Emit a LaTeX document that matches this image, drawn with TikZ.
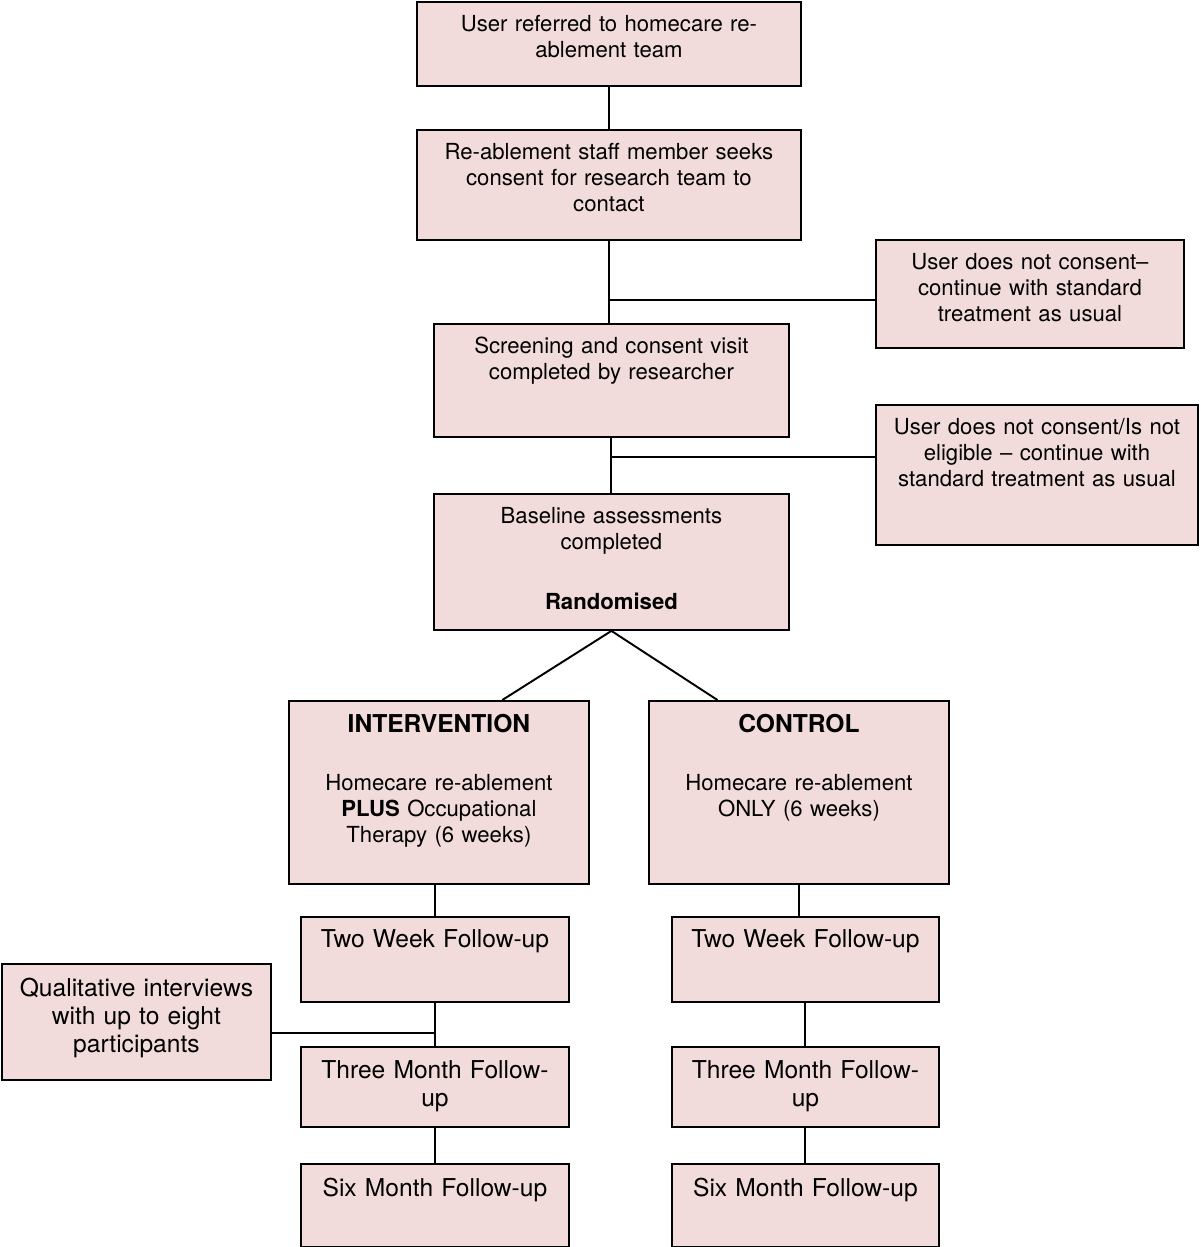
\documentclass[tikz,border=0pt]{standalone}
\usepackage{fontspec}
\setmainfont{TeX Gyre Heros}
\usetikzlibrary{calc}

\definecolor{boxpink}{RGB}{242,220,219}

\tikzset{
    box/.style={draw, line width=1.1pt, fill=boxpink, align=center, inner sep=0pt,
        anchor=north west, text height=0.6cm, font=\fontsize{12.6}{14.8}\selectfont},
    fbox/.style={box, text height=0.64cm, font=\fontsize{14}{15.9}\selectfont},
    link/.style={line width=1.1pt},
}
\newcommand{\armtitle}[1]{{\fontsize{14}{15.9}\selectfont\bfseries #1}}

\begin{document}
\begin{tikzpicture}[x=0.02cm, y=-0.02cm]
    \useasboundingbox (0,0) rectangle (1200,1247);

    \node[box, text width=7.68cm, text depth=1.08cm] (refer) at (416,1) {User referred to homecare re-\\ablement team};
    \node[box, text width=7.68cm, text depth=1.6cm] (seek) at (416,129) {Re-ablement staff member seeks\\consent for research team to\\contact};
    \node[box, text width=6.16cm, text depth=1.56cm] (nocons1) at (875,239) {User does not consent--\\continue with standard\\treatment as usual};
    \node[box, text width=7.1cm, text depth=1.66cm] (screen) at (433,323) {Screening and consent visit\\completed by researcher};
    \node[box, text width=6.44cm, text depth=2.2cm] (nocons2) at (875,404) {User does not consent/Is not\\eligible -- continue with\\standard treatment as usual};
    \node[box, text width=7.1cm, text depth=2.12cm] (base) at (433,493) {Baseline assessments\\completed\\[19pt]\textbf{Randomised}};

    \node[box, text width=6cm, text depth=3.02cm, text height=0.64cm] (interv) at (288,700) {\armtitle{INTERVENTION}\\[18pt]Homecare re-ablement\\\textbf{PLUS} Occupational\\Therapy (6 weeks)};
    \node[box, text width=6cm, text depth=3.02cm, text height=0.64cm] (control) at (648,700) {\armtitle{CONTROL}\\[18pt]Homecare re-ablement\\ONLY (6 weeks)};

    \node[fbox, text width=5.36cm, text depth=1.08cm, text height=0.62cm] (twoL) at (300,916) {Two Week Follow-up};
    \node[fbox, text width=5.34cm, text depth=1.08cm, text height=0.62cm] (twoR) at (671,916) {Two Week Follow-up};
    \node[fbox, text width=5.38cm, text depth=1.66cm, text height=0.66cm] (qual) at (1,963) {Qualitative interviews\\with up to eight\\participants};
    \node[fbox, text width=5.36cm, text depth=0.96cm] (threeL) at (300,1046) {Three Month Follow-\\up};
    \node[fbox, text width=5.34cm, text depth=0.96cm] (threeR) at (671,1046) {Three Month Follow-\\up};
    \node[fbox, text width=5.36cm, text depth=1.0cm, text height=0.66cm] (sixL) at (300,1163) {Six Month Follow-up};
    \node[fbox, text width=5.34cm, text depth=1.0cm, text height=0.66cm] (sixR) at (671,1163) {Six Month Follow-up};

    % main line
    \draw[link] (refer.south) -- (seek.north);
    \draw[link] (seek.south) -- (seek.south |- screen.north);
    \coordinate (j1) at ($(seek.south)!0.72!(seek.south |- screen.north)$);
    \draw[link] (j1) -- (j1 -| nocons1.west);
    \draw[link] (screen.south) -- (base.north);
    \coordinate (j2) at ($(screen.south)!0.35!(base.north)$);
    \draw[link] (j2) -- (j2 -| nocons2.west);

    % randomisation
    \draw[link] (base.south) -- ($(interv.north east)!0.29!(interv.north west)$);
    \draw[link] (base.south) -- ($(control.north west)!0.23!(control.north east)$);

    % intervention arm
    \draw[link] (interv.south -| twoL.north) -- (twoL.north);
    \draw[link] (twoL.south) -- (threeL.north);
    \coordinate (j3) at ($(twoL.south)!0.69!(threeL.north)$);
    \draw[link] (qual.east |- j3) -- (j3);
    \draw[link] (threeL.south) -- (sixL.north);

    % control arm
    \draw[link] (control.south) -- (control.south |- twoR.north);
    \draw[link] (twoR.south) -- (threeR.north);
    \draw[link] (threeR.south) -- (sixR.north);
\end{tikzpicture}
\end{document}
